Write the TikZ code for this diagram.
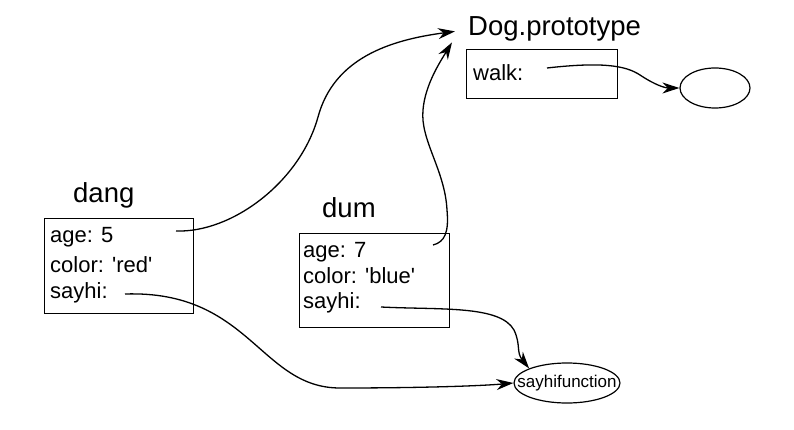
\documentclass[tikz,border=0pt]{standalone}
\usepackage{fontspec}
\setmainfont{Liberation Sans}
\usetikzlibrary{positioning,shapes.geometric,arrows.meta}

\tikzset{
  % --- nodes
  objbox/.style = {draw=black, line width=1.2pt, inner sep=0pt, anchor=north west},
  objname/.style= {anchor=base west, inner sep=0pt, font=\fontsize{27.5}{30}\selectfont},
  slot/.style   = {anchor=base west, inner sep=0pt, font=\fontsize{22}{24}\selectfont},
  fnode/.style  = {draw=black, ellipse, line width=1.2pt, inner sep=0pt},
  % --- edges
  ptr/.style    = {-{Stealth[length=17pt,width=11pt]}, line width=1.3pt},
}

\begin{document}
\begin{tikzpicture}[x=1pt,y=-1pt]
  \useasboundingbox (0,0) rectangle (794,430);

  % dang
  \node[objname] (dangname) at (73,203) {dang};
  \node[objbox, minimum width=149pt, minimum height=95pt] (dang) at (44,218) {};
  \node[slot] (dangage)   at (50,242) {age: 5};
  \node[slot] (dangcolor) at (50,272) {color: \textquotesingle red\textquotesingle};
  \node[slot] (dangsayhi) at (50,298) {sayhi:};

  % dum
  \node[objname] (dumname) at (322,218) {dum};
  \node[objbox, minimum width=150pt, minimum height=94pt] (dum) at (299,233) {};
  \node[slot] (dumage)   at (303,257) {age: 7};
  \node[slot] (dumcolor) at (303,283) {color: \textquotesingle blue\textquotesingle};
  \node[slot] (dumsayhi) at (303,308) {sayhi:};

  % Dog.prototype
  \node[objname] (protoname) at (468,36) {Dog.prototype};
  \node[objbox, minimum width=151pt, minimum height=49pt] (proto) at (466,49) {};
  \node[slot] (protowalk) at (473,81) {walk:};

  % functions
  \node[fnode, minimum width=70pt, minimum height=40pt] (walkfn) at (715,88) {};
  \node[fnode, inner xsep=-12.5pt, minimum width=106pt, minimum height=40pt,
        font=\fontsize{17}{19}\selectfont] (sayfn) at (567,383) {sayhifunction};

  % pointer starts
  \coordinate (dangage-p)   at (176,231);
  \coordinate (dangsayhi-p) at (125,294);
  \coordinate (dumage-p)    at (433,245);
  \coordinate (dumsayhi-p)  at (381,307);
  \coordinate (protowalk-p) at (547,68);

  \draw[ptr] (dangage-p) .. controls (232,233) and (300,182) .. (318,117)
             .. controls (334,58) and (390,40) .. ([xshift=-13pt,yshift=-2pt]protoname.west);
  \draw[ptr] (dumage-p) .. controls (445,242) and (449,232) .. (447,210)
             .. controls (445,170) and (420,140) .. (423,110)
             .. controls (425,85) and (440,62) .. ([xshift=-16pt,yshift=-13pt]protoname.west);
  \draw[ptr] (protowalk-p) .. controls (600,62) and (625,65) .. (640,75)
             .. controls (655,85) and (665,88) .. (walkfn.west);
  \draw[ptr] (dangsayhi-p) .. controls (250,290) and (260,388) .. (340,388)
             .. controls (420,388) and (480,386) .. (sayfn.west);
  \draw[ptr] (dumsayhi-p) .. controls (440,310) and (500,305) .. (514,330)
             .. controls (521,345) and (516,352) .. (sayfn.north west);
\end{tikzpicture}
\end{document}
